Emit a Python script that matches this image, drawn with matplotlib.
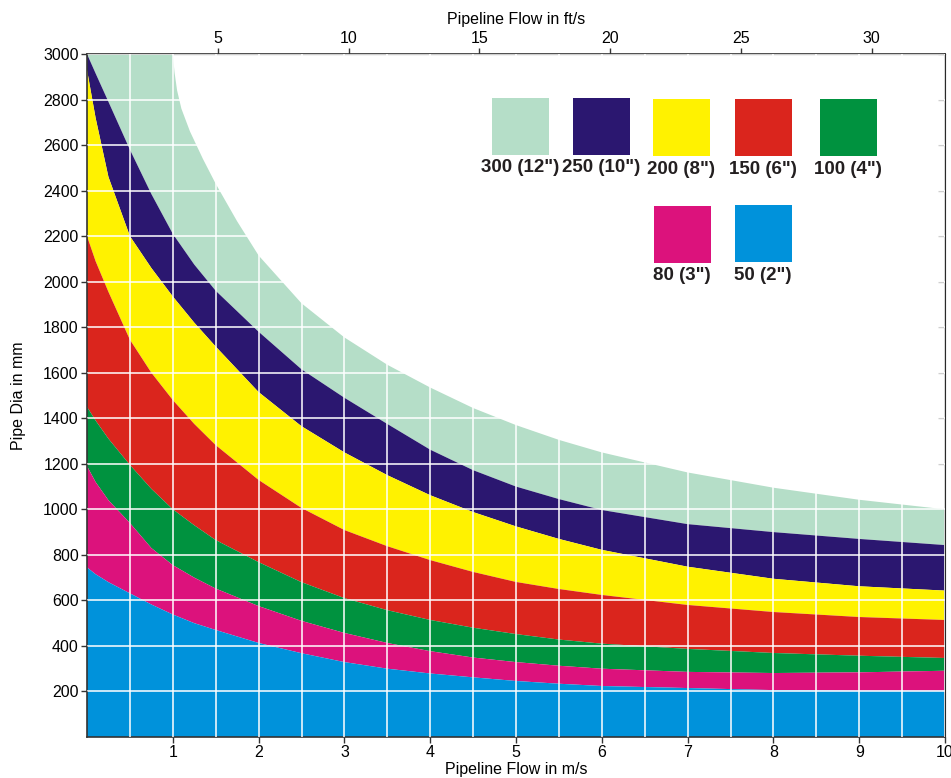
import numpy as np
import matplotlib
matplotlib.use("Agg")
from matplotlib import pyplot as plt
from matplotlib.patches import Rectangle

plt.rcParams['font.family'] = ['Liberation Sans', 'DejaVu Sans']

# flow velocity (m/s) where the band edges were read
v = [0, 0.1, 0.25, 0.5, 0.75, 1, 1.25, 1.5, 2, 2.5, 3, 3.5, 4, 4.5, 5, 5.5, 6, 7, 8, 9, 10]
# outer edge of the 300 band has its own points (bend at 1 m/s)
v_300 = [0, 1, 1.02, 1.05, 1.1, 1.2, 1.35, 1.5, 1.75, 2, 2.5, 3, 3.5, 4, 4.5, 5, 5.5, 6, 7, 8, 9, 10]
top_300 = [3000, 3000, 2920, 2840, 2760, 2660, 2540, 2430, 2265, 2115, 1905, 1755, 1635, 1535, 1445, 1370, 1305, 1250, 1162, 1095, 1042, 1000]

# upper edge of each band (pipe dia in mm)
top_250 = [3000, 2915, 2790, 2580, 2385, 2210, 2075, 1960, 1780, 1615, 1490, 1375, 1262, 1172, 1100, 1045, 997, 935, 900, 870, 843]
top_200 = [2930, 2720, 2460, 2200, 2060, 1935, 1820, 1715, 1515, 1365, 1250, 1150, 1062, 988, 925, 870, 822, 748, 695, 662, 643]
top_150 = [2200, 2090, 1955, 1745, 1600, 1480, 1375, 1282, 1129, 1006, 909, 838, 777, 725, 681, 650, 624, 580, 549, 527, 514]
top_100 = [1450, 1390, 1310, 1195, 1090, 1000, 930, 865, 768, 680, 610, 557, 514, 480, 452, 428, 410, 387, 369, 357, 347]
top_80 = [1190, 1120, 1040, 940, 830, 755, 700, 652, 575, 510, 457, 413, 377, 349, 329, 313, 300, 286, 281, 284, 291]
top_50 = [745, 715, 680, 631, 582, 538, 500, 470, 413, 368, 329, 300, 279, 262, 246, 234, 224, 215, 206, 203, 203]
bottom = [0] * len(v)

names = ['300 (12")', '250 (10")', '200 (8")', '150 (6")', '100 (4")', '80 (3")', '50 (2")']
colors = ['#b5dec8', '#2b1770', '#fff200', '#da251d', '#00923f', '#dc127c', '#0092db']
edges = [(v_300, top_300), (v, top_250), (v, top_200), (v, top_150),
         (v, top_100), (v, top_80), (v, top_50), (v, bottom)]

fig = plt.figure(figsize=(9.51, 7.78), dpi=100)
ax = fig.add_axes([87/951, 1-737/778, (945-87)/951, (737-54)/778])

#帯を上から順に塗る
for i in range(len(names)):
    xu, yu = edges[i]
    xl, yl = edges[i+1]
    ax.fill(list(xu) + list(xl)[::-1], list(yu) + list(yl)[::-1],
            color=colors[i], lw=0, zorder=1)

ax.set_xlim(0, 10)
ax.set_ylim(0, 3000)
ax.set_xticks(range(1, 11))
ax.set_xticks(np.arange(0.5, 10, 0.5), minor=True)
ax.set_yticks(range(200, 3001, 200))
ax.tick_params(axis='x', which='minor', length=0)
ax.tick_params(labelsize=11.5, length=4, width=1, pad=2, color='#333333')
ax.grid(True, axis='x', which='both', color='white', lw=1.3, alpha=0.85)
ax.grid(True, axis='y', which='major', color='white', lw=1.3, alpha=0.85)
ax.set_axisbelow(False)
for s in ax.spines.values():
    s.set_color('#333333')
    s.set_linewidth(1.2)

ax.set_xlabel('Pipeline Flow in m/s', fontsize=11.5, labelpad=1)
ax.set_ylabel('Pipe Dia in mm', fontsize=11.5, labelpad=12)

#上の軸 ft/s
top = ax.secondary_xaxis('top', functions=(lambda x: x/0.3048, lambda f: f*0.3048))
top.set_xticks([5, 10, 15, 20, 25, 30])
top.tick_params(labelsize=11.5, length=4, width=1, pad=2, color='#333333')
top.set_xlabel('Pipeline Flow in ft/s', fontsize=11.5, labelpad=5)

right = ax.secondary_yaxis('right')
right.set_yticks(range(200, 3001, 200))
right.tick_params(direction='in', length=5, labelright=False, color='#333333')

# 凡例（色の四角）
legend_pos = [(492, 98), (573, 98), (653, 99), (735, 99), (820, 99), (654, 206), (735, 205)]
for i in range(len(names)):
    x0, y0 = legend_pos[i]
    fig.add_artist(Rectangle((x0/951, 1-(y0+57)/778), 57/951, 57/778,
                             transform=fig.transFigure, color=colors[i], lw=0))
    fig.text((x0+28)/951, 1-(y0+70)/778, names[i], ha='center', va='center',
             fontsize=13.5, fontweight='bold', color='#231f20')

fig.savefig('out.png', dpi=100)
